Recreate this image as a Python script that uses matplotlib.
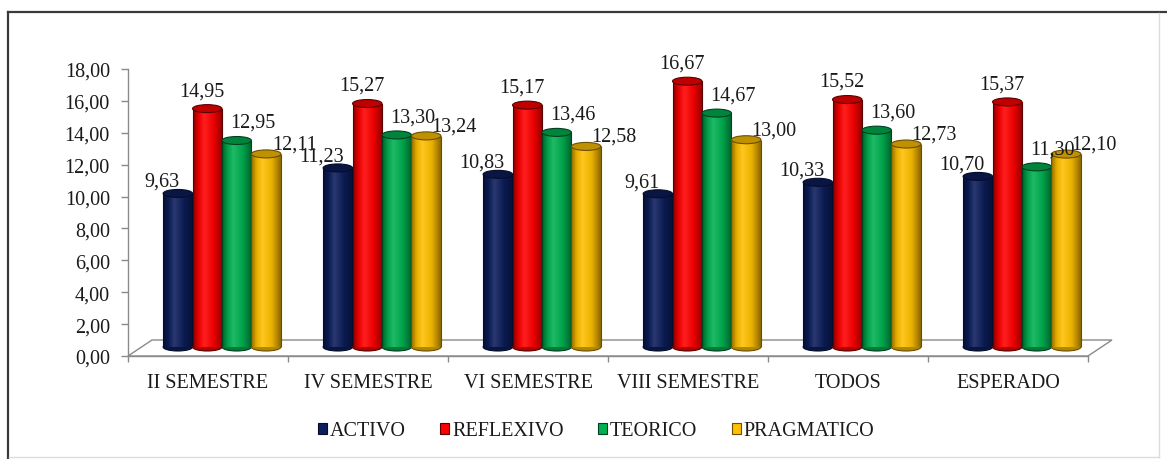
import numpy as np
import matplotlib
matplotlib.use('Agg')
import matplotlib.pyplot as plt
from matplotlib.transforms import offset_copy
from matplotlib.patches import Ellipse, Polygon, Rectangle
from matplotlib.colors import LinearSegmentedColormap, to_rgb
from matplotlib.lines import Line2D

# ---------------- data ----------------
categories = ['II SEMESTRE', 'IV SEMESTRE', 'VI SEMESTRE', 'VIII SEMESTRE', 'TODOS', 'ESPERADO']
series_names = ['ACTIVO', 'REFLEXIVO', 'TEORICO', 'PRAGMATICO']
activo = [9.63, 11.23, 10.83, 9.61, 10.33, 10.70]
reflexivo = [14.95, 15.27, 15.17, 16.67, 15.52, 15.37]
teorico = [12.95, 13.30, 13.46, 14.67, 13.60, 11.30]
pragmatico = [12.11, 13.24, 12.58, 13.00, 12.73, 12.10]
yticks = [0, 2, 4, 6, 8, 10, 12, 14, 16, 18]

# ---------------- style ----------------
colors = ['#0C1E5B', '#FF0000', '#00B050', '#FFC000']
edge_colors = ['#050d2a', '#5a0000', '#004020', '#6b4e00']
label_offsets = [(-16, 12), (-5, 18), (16, 18), (28, 10)]  # pixels from cylinder top
FONT = 'Liberation Serif'
FS = 14.5
TXT = '#1a1a1a'
AXC = '#8a8a8a'

W, H = 1167, 460
fig = plt.figure(figsize=(W / 100, H / 100), dpi=100)
fig.patch.set_facecolor('white')
ax_l, ax_r, ax_t, ax_b = 128, 1088, 70, 357
ax = fig.add_axes([ax_l / W, (H - ax_b) / H, (ax_r - ax_l) / W, (ax_b - ax_t) / H])
ax.set_xlim(0, len(categories))
ax.set_ylim(0, 18)

px_x = (ax_r - ax_l) / len(categories)   # pixels per category unit
px_y = (ax_b - ax_t) / 18.0              # pixels per value unit

# 3D floor (depth offset)
dx_floor, dy_floor = 24 / px_x, 16 / px_y
n = len(categories)
floor = Polygon([(0, 0), (n, 0), (n + dx_floor, dy_floor), (dx_floor, dy_floor)],
                closed=True, facecolor='white', edgecolor=AXC, linewidth=1.0,
                clip_on=False, zorder=1)
ax.add_patch(floor)

# cylinders sit in the middle of the floor depth
tr = offset_copy(ax.transData, fig=fig, x=14, y=9, units='dots')

series = [activo, reflexivo, teorico, pragmatico]
bw = 0.184
ell_h = 8 / px_y
x_centers = np.arange(n) + 0.5


def shade(c, f):
    r = np.array(to_rgb(c))
    if f <= 1:
        return tuple(r * f)
    return tuple(r + (1 - r) * (f - 1))


for k, (vals, c, ec) in enumerate(zip(series, colors, edge_colors)):
    xs = x_centers + (k - 1.5) * bw
    cmap = LinearSegmentedColormap.from_list(
        f'cyl{k}', [(0.0, shade(c, 0.55)), (0.18, shade(c, 0.9)), (0.38, shade(c, 1.12)),
                    (0.7, shade(c, 0.92)), (1.0, shade(c, 0.55))])
    grad = np.linspace(0, 1, 64).reshape(1, -1)
    bars = ax.bar(xs, vals, width=bw, color=c, linewidth=0, transform=tr, zorder=3 + k * 0.01)
    for x, v, rect in zip(xs, vals, bars):
        z = 3 + k * 0.01
        # bottom rounded end
        ax.add_patch(Ellipse((x, 0), bw, ell_h, facecolor=shade(c, 0.7), edgecolor=ec,
                             linewidth=0.8, transform=tr, zorder=z - 0.005))
        im = ax.imshow(grad, extent=[x - bw / 2, x + bw / 2, 0, v], aspect='auto',
                       cmap=cmap, transform=tr, zorder=z + 0.001, interpolation='bilinear')
        im.set_clip_path(rect)
        ax.vlines([x - bw / 2, x + bw / 2], 0, v, colors=ec, linewidth=0.8,
                  transform=tr, zorder=z + 0.002)
        # top cap
        ax.add_patch(Ellipse((x, v), bw, ell_h, facecolor=shade(c, 0.75), edgecolor=ec,
                             linewidth=0.8, transform=tr, zorder=z + 0.003))
        ax.annotate(f'{v:.2f}'.replace('.', ','), xy=(x, v), xycoords=tr,
                    xytext=label_offsets[k], textcoords='offset pixels',
                    ha='center', va='center', fontsize=FS, family=FONT, color=TXT,
                    zorder=10)

ax.set_xlim(0, n)
ax.set_ylim(0, 18)
ax.set_aspect('auto')

# axes styling
for s in ['top', 'right']:
    ax.spines[s].set_visible(False)
for s in ['left', 'bottom']:
    ax.spines[s].set_color(AXC)
    ax.spines[s].set_linewidth(1.0)
ax.set_facecolor('none')
ax.set_yticks(yticks)
ax.set_yticklabels([f'{t:.2f}'.replace('.', ',') for t in yticks], family=FONT,
                   fontsize=FS, color=TXT)
ax.tick_params(axis='y', direction='out', length=5, width=1, color=AXC, pad=8)
ax.set_xticks(x_centers)
ax.set_xticklabels(categories, family=FONT, fontsize=FS, color=TXT)
ax.set_xticks(np.arange(n + 1), minor=True)
ax.tick_params(axis='x', which='major', length=0, pad=12)
ax.tick_params(axis='x', which='minor', direction='out', length=4, width=1, color=AXC)

# legend
handles = [Rectangle((0, 0), 1, 1, facecolor=c, edgecolor=ec, linewidth=0.8)
           for c, ec in zip(colors, edge_colors)]
leg = fig.legend(handles, series_names, loc='center', bbox_to_anchor=(596 / W, 1 - 432 / H),
                 ncol=4, frameon=False, prop={'family': FONT, 'size': FS},
                 handlelength=0.45, handleheight=0.45, handletextpad=0.15, columnspacing=1.7)
for t in leg.get_texts():
    t.set_color(TXT)

# outer frame (dark top/left, light right/bottom)
fig.add_artist(Line2D([8 / W, 8 / W], [1 - 13 / H, 1 - 459 / H], transform=fig.transFigure,
                      color='#3a3a3a', linewidth=1.6))
fig.add_artist(Line2D([8 / W, 1166 / W], [1 - 13 / H, 1 - 13 / H], transform=fig.transFigure,
                      color='#3a3a3a', linewidth=1.6))
fig.add_artist(Line2D([1159 / W, 1159 / W], [1 - 14 / H, 1 - 458 / H], transform=fig.transFigure,
                      color='#dcdcdc', linewidth=1.0))
fig.add_artist(Line2D([9 / W, 1159 / W], [1 - 458 / H, 1 - 458 / H], transform=fig.transFigure,
                      color='#dcdcdc', linewidth=1.0))

fig.savefig('out.png', dpi=100, facecolor='white')
